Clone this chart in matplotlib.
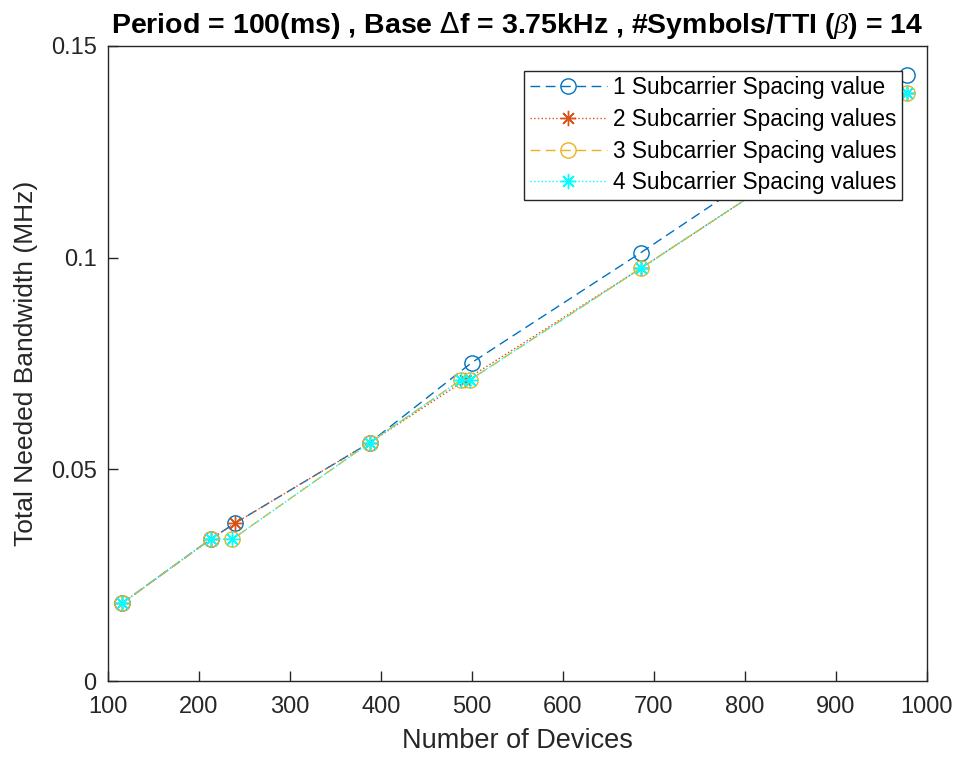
import numpy as np
import matplotlib.pyplot as plt

plt.rcParams['font.family'] = ['Liberation Sans', 'DejaVu Sans']
plt.rcParams['mathtext.fontset'] = 'custom'
plt.rcParams['mathtext.it'] = 'Liberation Serif:italic'

# number of devices / total bandwidth (MHz)
x1 = [116, 213, 240, 388, 500, 686, 978]
y1 = [0.0184, 0.0335, 0.0373, 0.0563, 0.0752, 0.1012, 0.1432]

x2 = [116, 213, 240, 388, 493, 686, 978]
y2 = [0.0184, 0.0335, 0.0373, 0.0563, 0.0711, 0.0975, 0.1388]

x3 = [116, 213, 237, 388, 488, 498, 686, 978]
y3 = [0.0184, 0.0335, 0.0335, 0.0563, 0.0711, 0.0711, 0.0975, 0.1388]

x4 = [116, 213, 237, 388, 488, 498, 686, 978]
y4 = [0.0184, 0.0335, 0.0335, 0.0563, 0.0711, 0.0711, 0.0975, 0.1388]

labels = ['1 Subcarrier Spacing value', '2 Subcarrier Spacing values',
          '3 Subcarrier Spacing values', '4 Subcarrier Spacing values']

star = (8, 2, 0)  # matlab style asterisk

fig = plt.figure(figsize=(9.6, 7.61), dpi=100)
ax = fig.add_axes([0.1122, 0.1051, 0.8531, 0.8345])

ax.plot(x1, y1, '--', marker='o', color='#0072BD', mfc='none', ms=11, lw=1, dashes=(7, 4), label=labels[0])
ax.plot(x2, y2, ':', marker=star, color='#D95319', ms=11, lw=1, label=labels[1])
ax.plot(x3, y3, '--', marker='o', color='#EDB120', mfc='none', ms=11, lw=1, dashes=(7, 4), label=labels[2])
ax.plot(x4, y4, ':', marker=star, color='#00FFFF', ms=11, lw=1, label=labels[3])

ax.set_xlim(100, 1000)
ax.set_ylim(0, 0.15)
ax.set_xticks(np.arange(100, 1001, 100))
ax.set_yticks([0, 0.05, 0.1, 0.15])
ax.set_yticklabels(['0', '0.05', '0.1', '0.15'])

ax.tick_params(direction='in', length=7, width=1, colors='#262626', labelsize=17,
               labelcolor='#262626')
ax.tick_params(axis='x', pad=11)
ax.tick_params(axis='y', pad=8)
for s in ax.spines.values():
    s.set_color('#262626')
    s.set_linewidth(1)

ax.set_xlabel('Number of Devices', fontsize=19.5, color='#262626', labelpad=7)
ax.set_ylabel('Total Needed Bandwidth (MHz)', fontsize=19, color='#262626', labelpad=9)
ax.set_title(r'Period = 100(ms) , Base $\Delta$f = 3.75kHz , #Symbols/TTI ($\beta$) = 14',
             fontsize=20.5, fontweight='bold', pad=9)

leg = ax.legend(loc='upper right', bbox_to_anchor=(0.9695, 0.961), fontsize=16.3,
                frameon=True, fancybox=False, edgecolor='#262626', framealpha=1,
                borderpad=0.25, labelspacing=0.38, handlelength=3.4, handletextpad=0.25,
                borderaxespad=0)
leg.get_frame().set_linewidth(1)

fig.savefig('out.png', dpi=100)
